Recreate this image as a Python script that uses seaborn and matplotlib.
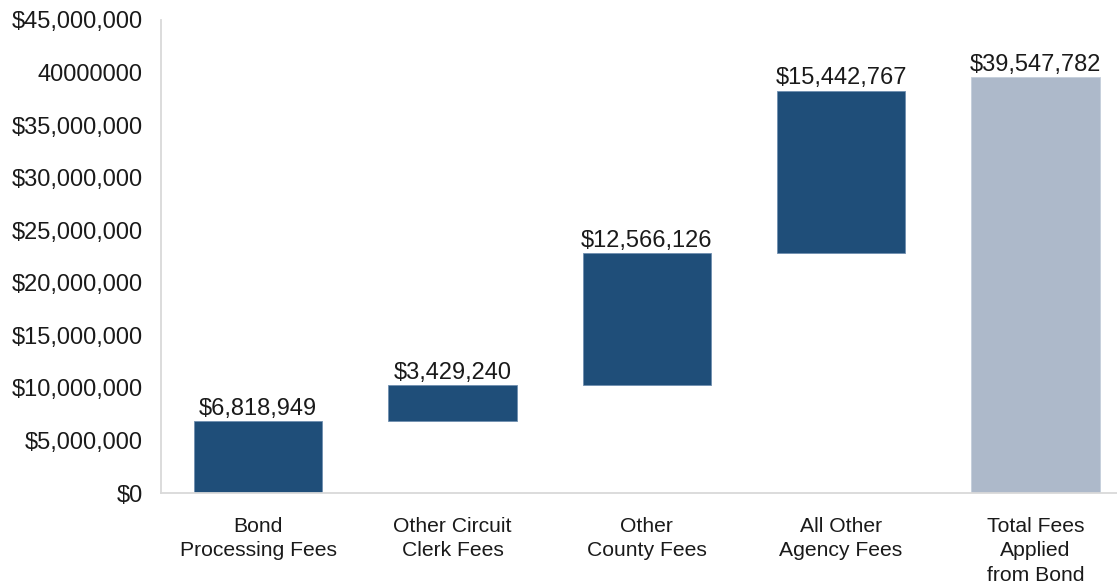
import numpy as np
import pandas as pd
import matplotlib
matplotlib.use("Agg")
import matplotlib.pyplot as plt
import seaborn as sns

# ── data ──────────────────────────────────────────────
categories = ["Bond\nProcessing Fees", "Other Circuit\nClerk Fees",
              "Other\nCounty Fees", "All Other\nAgency Fees",
              "Total Fees\nApplied\nfrom Bond"]
amounts = [6818949, 3429240, 12566126, 15442767, 39547782]
is_total = [False, False, False, False, True]
y_ticks = [0, 5000000, 10000000, 15000000, 20000000,
           25000000, 30000000, 35000000, 40000000, 45000000]
y_tick_labels = ["$0", "$5,000,000", "$10,000,000", "$15,000,000",
                 "$20,000,000", "$25,000,000", "$30,000,000",
                 "$35,000,000", "40000000", "$45,000,000"]

DARK = "#1F4E79"
LIGHT = "#ADB9CA"
TEXT = "#1a1a1a"
AXIS = "#D9D9D9"

sns.set_theme(style="white")
plt.rcParams["font.family"] = ["Liberation Sans", "DejaVu Sans"]

# waterfall bases: running total for steps, zero for the total bar
steps = np.array(amounts, dtype=float)
running = np.concatenate([[0], np.cumsum(steps[:-1])])[:-1]
bases = np.where(is_total, 0, np.append(running, 0)[:len(steps)])

df = pd.DataFrame({"cat": categories, "amount": amounts, "base": bases})

fig = plt.figure(figsize=(11.17, 5.86), dpi=100)
ax = fig.add_axes([161 / 1117, 1 - 493 / 586, (1117 - 161) / 1117, (493 - 20) / 586])

sns.barplot(data=df, x="cat", y="amount", bottom=df["base"].values,
            color=DARK, saturation=1, width=0.66, errorbar=None,
            edgecolor="#6F8FB0", linewidth=0.6, ax=ax)

for patch, tot in zip(ax.patches, is_total):
    if tot:
        patch.set_facecolor(LIGHT)
        patch.set_edgecolor("#C4CEDB")

ax.bar_label(ax.containers[0], labels=[f"${v:,.0f}" for v in amounts],
             padding=1, fontsize=17, color=TEXT)

ax.set_ylim(0, 45000000)
ax.set_xlim(-0.5, 4.42)
ax.set_yticks(y_ticks)
ax.set_yticklabels(y_tick_labels, fontsize=17, color=TEXT)
ax.set_xticks(range(len(categories)))
ax.set_xticklabels(categories, fontsize=15.2, color=TEXT, linespacing=1.38)
ax.tick_params(axis="y", length=0, pad=13)
ax.tick_params(axis="x", length=0, pad=17)
ax.set_xlabel("")
ax.set_ylabel("")

sns.despine(ax=ax)
for side in ["left", "bottom"]:
    ax.spines[side].set_color(AXIS)
    ax.spines[side].set_linewidth(1.3)

fig.savefig("out.png", dpi=100)
